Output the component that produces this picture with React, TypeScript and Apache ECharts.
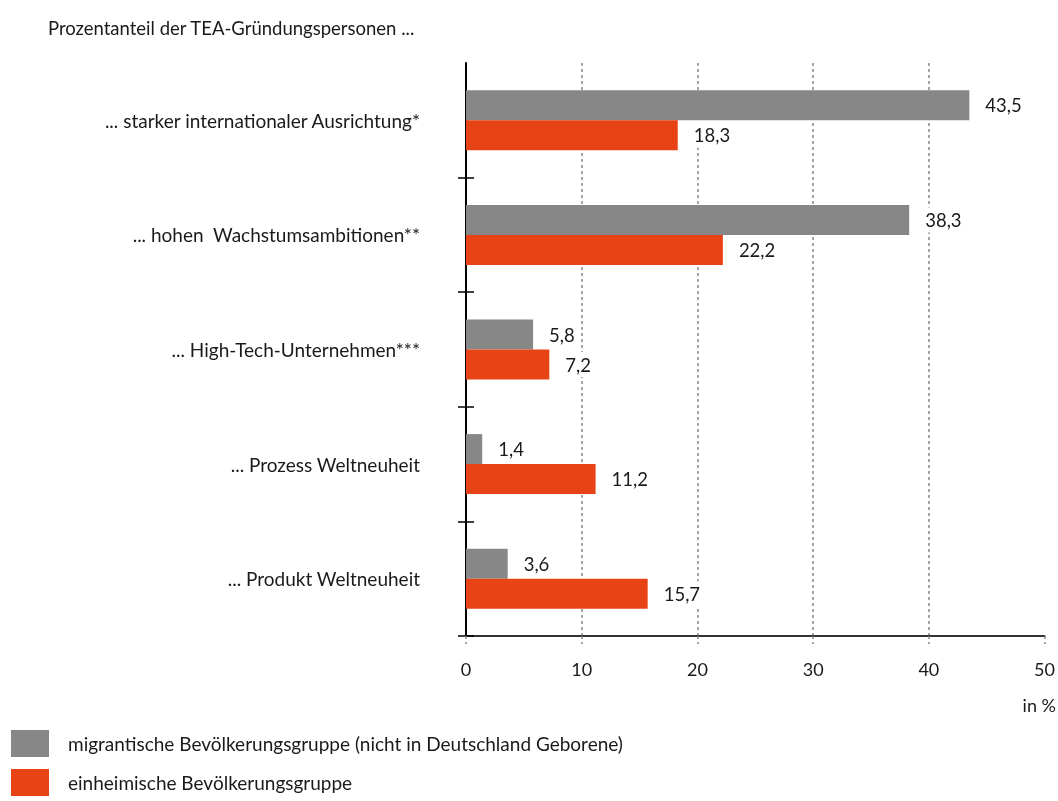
import React, { useEffect, useRef } from "react";
import * as echarts from "echarts";

const categories = [
  "... starker internationaler Ausrichtung*",
  "... hohen  Wachstumsambitionen**",
  "... High-Tech-Unternehmen***",
  "... Prozess Weltneuheit",
  "... Produkt Weltneuheit",
];
const migrantValues = [43.5, 38.3, 5.8, 1.4, 3.6];
const nativeValues = [18.3, 22.2, 7.2, 11.2, 15.7];
const seriesNames = [
  "migrantische Bevölkerungsgruppe (nicht in Deutschland Geborene)",
  "einheimische Bevölkerungsgruppe",
];
const titleText = "Prozentanteil der TEA-Gründungspersonen ...";
const unitText = "in %";

const FONT = "Lato";
const GRAY = "#878787";
const ORANGE = "#E84315";
const TEXT = "#1a1a1a";

export default function App() {
  const ref = useRef<HTMLDivElement>(null);
  useEffect(() => {
    const chart = echarts.init(ref.current!, null, { renderer: "svg" });
    const fmt = (p: any) => Number(p.value).toFixed(1).replace(".", ",");
    const label = {
      show: true,
      position: "right",
      distance: 10,
      formatter: fmt,
      backgroundColor: "#ffffff",
      padding: [3, 6, 3, 6],
      color: TEXT,
      fontSize: 18.5,
      fontFamily: FONT,
    };
    chart.setOption({
      animation: false,
      textStyle: { fontFamily: FONT },
      title: {
        text: titleText,
        left: 43,
        top: 13,
        textStyle: { fontSize: 18.5, fontWeight: "normal", color: TEXT, fontFamily: FONT },
      },
      legend: {
        orient: "vertical",
        left: 11,
        top: 730,
        padding: 0,
        itemWidth: 38,
        itemHeight: 27,
        itemGap: 12,
        icon: "rect",
        data: seriesNames,
        textStyle: { fontSize: 19, color: TEXT, fontFamily: FONT, padding: [0, 0, 0, 14] },
      },
      grid: { left: 466, right: 10, top: 63, bottom: 165, containLabel: false },
      xAxis: {
        type: "value",
        min: 0,
        max: 50,
        interval: 10,
        axisLine: { show: true, lineStyle: { color: "#333", width: 2 } },
        axisTick: { show: true, length: 8, lineStyle: { color: "#888", type: [3, 3], width: 1.5 } },
        axisLabel: { fontSize: 18, color: TEXT, margin: 24, fontFamily: FONT },
        splitLine: {
          show: true,
          showMinLine: false,
          showMaxLine: false,
          lineStyle: { color: "#888", type: [3, 3], width: 1.5 },
        },
      },
      yAxis: [
        {
          type: "category",
          data: categories,
          inverse: true,
          axisLine: { show: true, lineStyle: { color: "#000", width: 2 } },
          axisTick: {
            show: true,
            length: 8,
            interval: (i: number) => i !== 0,
            lineStyle: { color: "#000", width: 1.5 },
          },
          axisLabel: { fontSize: 19, color: TEXT, margin: 46, fontFamily: FONT },
          splitLine: { show: false },
        },
        {
          type: "category",
          data: categories,
          inverse: true,
          position: "left",
          axisLine: { show: false },
          axisTick: {
            show: true,
            inside: true,
            length: 8,
            interval: (i: number) => i !== 0,
            lineStyle: { color: "#000", width: 1.5 },
          },
          axisLabel: { show: false },
          splitLine: { show: false },
        },
      ],
      series: [
        {
          name: seriesNames[0],
          type: "bar",
          yAxisIndex: 0,
          data: migrantValues,
          barWidth: 30,
          barGap: "0%",
          itemStyle: { color: GRAY },
          label,
        },
        {
          name: seriesNames[1],
          type: "bar",
          yAxisIndex: 0,
          data: nativeValues,
          barWidth: 30,
          barGap: "0%",
          itemStyle: { color: ORANGE },
          label,
        },
      ],
      graphic: [
        {
          type: "text",
          right: 2,
          top: 696,
          style: { text: unitText, fontSize: 18, fill: TEXT, fontFamily: FONT },
        },
      ],
    });
    return () => chart.dispose();
  }, []);
  return (
    <div
      ref={ref}
      style={{ position: "fixed", left: 0, top: 0, width: 1058, height: 801 }}
    />
  );
}
